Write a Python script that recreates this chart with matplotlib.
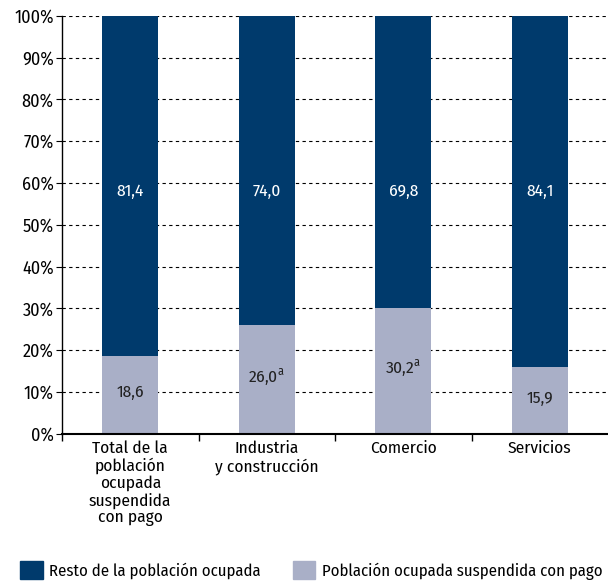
import matplotlib
matplotlib.use("Agg")
import matplotlib.pyplot as plt
from matplotlib.patches import Patch

plt.rcParams['font.family'] = ['Fira Sans Condensed', 'DejaVu Sans']
plt.rcParams['mathtext.fontset'] = 'custom'
plt.rcParams['mathtext.rm'] = 'Fira Sans Condensed'

categories = ["Total de la\npoblación\nocupada\nsuspendida\ncon pago",
              "Industria\ny construcción", "Comercio", "Servicios"]
suspendida = [18.6, 26.0, 30.2, 15.9]
resto = [81.4, 74.0, 69.8, 84.1]
light_labels = ["18,6", "26,0$^{\\mathrm{a}}$", "30,2$^{\\mathrm{a}}$", "15,9"]
dark_labels = ["81,4", "74,0", "69,8", "84,1"]
yticks = [0, 10, 20, 30, 40, 50, 60, 70, 80, 90, 100]

dark = "#003A6C"
light = "#A9AFC7"

fig = plt.figure(figsize=(6.08, 5.83), dpi=100)
ax = fig.add_axes([0.102, 0.256, 0.898, 0.717])

x = range(len(categories))
ax.bar(x, suspendida, width=0.41, color=light, zorder=2)
ax.bar(x, resto, width=0.41, bottom=suspendida, color=dark, zorder=2)

for i in x:
    ax.text(i, suspendida[i] / 2 + 0.5, light_labels[i], ha="center", va="center",
            fontsize=12.5, color="#222222", zorder=3)
    ax.text(i, 58, dark_labels[i], ha="center", va="center",
            fontsize=12.5, color="white", zorder=3)

ax.set_xlim(-0.5, 3.5)
ax.set_ylim(0, 100)
ax.set_yticks(yticks)
ax.set_yticklabels([f"{v}%" for v in yticks], fontsize=13)
ax.set_xticks(list(x))
ax.set_xticklabels(categories, fontsize=12.5, linespacing=1.08)
ax.tick_params(axis="x", length=0, pad=5)
ax.set_xticks([-0.5, 0.5, 1.5, 2.5], minor=True)
ax.tick_params(axis="x", which="minor", length=5, width=1)
ax.tick_params(axis="y", length=4, width=0.8, pad=2)

ax.yaxis.grid(True, linestyle=(0, (3, 3)), color="black", linewidth=0.8, zorder=0)
ax.spines["top"].set_visible(False)
ax.spines["right"].set_visible(False)
ax.spines["left"].set_linewidth(1)
ax.spines["bottom"].set_linewidth(1.5)

handles = [Patch(color=dark), Patch(color=light)]
fig.legend(handles, ["Resto de la población ocupada", "Población ocupada suspendida con pago"],
           loc="lower left", bbox_to_anchor=(0.033, 0.006), ncol=2, frameon=False,
           fontsize=12, handlelength=1.35, handleheight=1.35, columnspacing=1.9,
           handletextpad=0.4, borderpad=0, borderaxespad=0)

fig.savefig("out.png", dpi=100)
